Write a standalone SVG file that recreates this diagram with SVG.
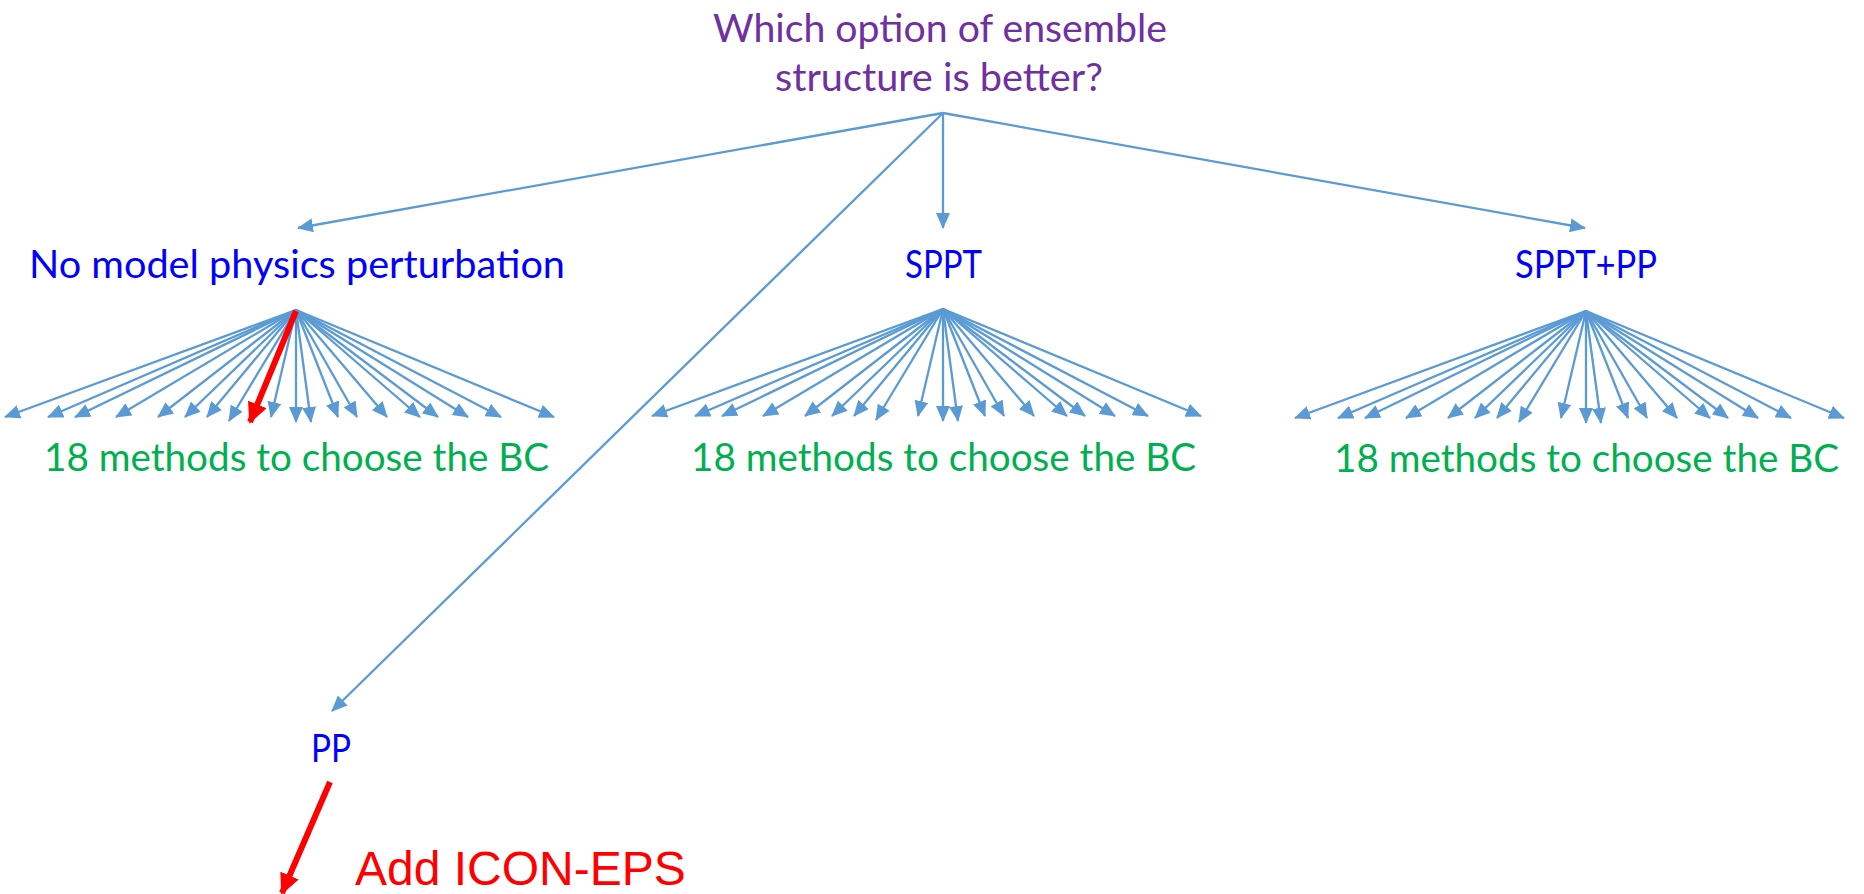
<svg xmlns="http://www.w3.org/2000/svg" width="1864" height="894" viewBox="0 0 1864 894">
<style>
.t{font-family:Lato,"Open Sans","Liberation Sans",sans-serif;font-size:38px}
.q{fill:#7030A0}.b{fill:#0000FF}.g{fill:#00B050}
.c{stroke:#5B9BD5;stroke-width:2.3;fill:none;marker-end:url(#ab)}
.r{stroke:#FF0000;stroke-width:6;fill:none;marker-end:url(#ar)}
</style>
<defs>
<marker id="ab" markerUnits="userSpaceOnUse" markerWidth="16" markerHeight="14" refX="15" refY="7" orient="auto"><path d="M0,0 L16,7 L0,14 z" fill="#5B9BD5"/></marker>
<marker id="ar" markerUnits="userSpaceOnUse" markerWidth="21" markerHeight="20" refX="19" refY="10" orient="auto"><path d="M0,0 L21,10 L0,20 z" fill="#FF0000"/></marker>
</defs>
<rect width="1864" height="894" fill="#fff"/>
<g id="question">
<text class="t q" x="713" y="42" textLength="454" lengthAdjust="spacingAndGlyphs">Which option of ensemble</text>
<text class="t q" x="775" y="91" textLength="328" lengthAdjust="spacingAndGlyphs">structure is better?</text>
</g>
<g id="no-model-physics"><text class="t b" x="29" y="278" textLength="536" lengthAdjust="spacingAndGlyphs">No model physics perturbation</text></g>
<g id="sppt"><text class="t b" x="905" y="278" textLength="77" lengthAdjust="spacingAndGlyphs">SPPT</text></g>
<g id="sppt-pp"><text class="t b" x="1515" y="278" textLength="142" lengthAdjust="spacingAndGlyphs">SPPT+PP</text></g>
<g id="pp"><text class="t b" x="311" y="762" textLength="40" lengthAdjust="spacingAndGlyphs">PP</text></g>
<g id="methods-1"><text class="t g" x="44" y="471" textLength="505" lengthAdjust="spacingAndGlyphs">18 methods to choose the BC</text></g>
<g id="methods-2"><text class="t g" x="691" y="471" textLength="505" lengthAdjust="spacingAndGlyphs">18 methods to choose the BC</text></g>
<g id="methods-3"><text class="t g" x="1334" y="472" textLength="505" lengthAdjust="spacingAndGlyphs">18 methods to choose the BC</text></g>
<g id="add-icon-eps"><text x="355" y="885" font-family="'Liberation Sans',Arial,sans-serif" font-size="48" fill="#FF0000">Add ICON-EPS</text></g>
<g id="connectors">
<line class="c" x1="943" y1="113" x2="298" y2="228"/>
<line class="c" x1="943" y1="113" x2="943" y2="228"/>
<line class="c" x1="943" y1="113" x2="1585" y2="228"/>
<line class="c" x1="943" y1="113" x2="332" y2="711"/>
<g transform="translate(296,310)">
<line class="c" x1="0" y1="0" x2="-291" y2="107"/><line class="c" x1="0" y1="0" x2="-248" y2="107"/><line class="c" x1="0" y1="0" x2="-221" y2="107"/><line class="c" x1="0" y1="0" x2="-180" y2="107"/><line class="c" x1="0" y1="0" x2="-138" y2="107"/><line class="c" x1="0" y1="0" x2="-111" y2="107"/><line class="c" x1="0" y1="0" x2="-89" y2="107"/><line class="c" x1="0" y1="0" x2="-67" y2="111"/><line class="c" x1="0" y1="0" x2="-25" y2="107"/><line class="c" x1="0" y1="0" x2="0" y2="112"/><line class="c" x1="0" y1="0" x2="15" y2="112"/><line class="c" x1="0" y1="0" x2="42" y2="107"/><line class="c" x1="0" y1="0" x2="61" y2="107"/><line class="c" x1="0" y1="0" x2="91" y2="107"/><line class="c" x1="0" y1="0" x2="124" y2="107"/><line class="c" x1="0" y1="0" x2="142" y2="107"/><line class="c" x1="0" y1="0" x2="172" y2="107"/><line class="c" x1="0" y1="0" x2="205" y2="107"/><line class="c" x1="0" y1="0" x2="258" y2="107"/>
</g>
<g transform="translate(943,309)">
<line class="c" x1="0" y1="0" x2="-291" y2="107"/><line class="c" x1="0" y1="0" x2="-248" y2="107"/><line class="c" x1="0" y1="0" x2="-221" y2="107"/><line class="c" x1="0" y1="0" x2="-180" y2="107"/><line class="c" x1="0" y1="0" x2="-138" y2="107"/><line class="c" x1="0" y1="0" x2="-111" y2="107"/><line class="c" x1="0" y1="0" x2="-89" y2="107"/><line class="c" x1="0" y1="0" x2="-67" y2="111"/><line class="c" x1="0" y1="0" x2="-25" y2="107"/><line class="c" x1="0" y1="0" x2="0" y2="112"/><line class="c" x1="0" y1="0" x2="15" y2="112"/><line class="c" x1="0" y1="0" x2="42" y2="107"/><line class="c" x1="0" y1="0" x2="61" y2="107"/><line class="c" x1="0" y1="0" x2="91" y2="107"/><line class="c" x1="0" y1="0" x2="124" y2="107"/><line class="c" x1="0" y1="0" x2="142" y2="107"/><line class="c" x1="0" y1="0" x2="172" y2="107"/><line class="c" x1="0" y1="0" x2="205" y2="107"/><line class="c" x1="0" y1="0" x2="258" y2="107"/>
</g>
<g transform="translate(1586,311)">
<line class="c" x1="0" y1="0" x2="-291" y2="107"/><line class="c" x1="0" y1="0" x2="-248" y2="107"/><line class="c" x1="0" y1="0" x2="-221" y2="107"/><line class="c" x1="0" y1="0" x2="-180" y2="107"/><line class="c" x1="0" y1="0" x2="-138" y2="107"/><line class="c" x1="0" y1="0" x2="-111" y2="107"/><line class="c" x1="0" y1="0" x2="-89" y2="107"/><line class="c" x1="0" y1="0" x2="-67" y2="111"/><line class="c" x1="0" y1="0" x2="-25" y2="107"/><line class="c" x1="0" y1="0" x2="0" y2="112"/><line class="c" x1="0" y1="0" x2="15" y2="112"/><line class="c" x1="0" y1="0" x2="42" y2="107"/><line class="c" x1="0" y1="0" x2="61" y2="107"/><line class="c" x1="0" y1="0" x2="91" y2="107"/><line class="c" x1="0" y1="0" x2="124" y2="107"/><line class="c" x1="0" y1="0" x2="142" y2="107"/><line class="c" x1="0" y1="0" x2="172" y2="107"/><line class="c" x1="0" y1="0" x2="205" y2="107"/><line class="c" x1="0" y1="0" x2="258" y2="107"/>
</g>
<line class="r" x1="296" y1="311" x2="250" y2="422"/>
<line class="r" x1="330" y1="782" x2="282" y2="893"/>
</g>
</svg>
